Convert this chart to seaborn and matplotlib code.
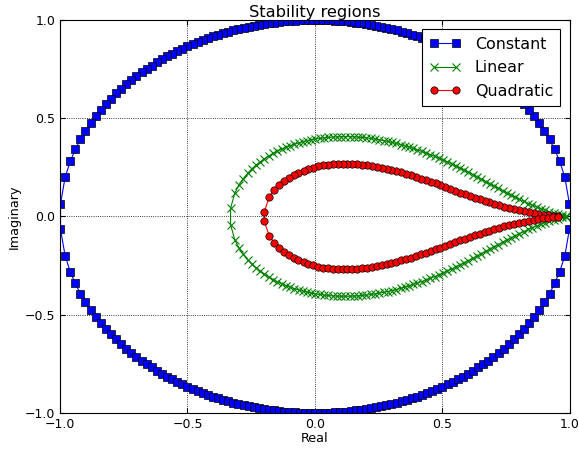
import numpy as np
import matplotlib
matplotlib.use('Agg')
import matplotlib.pyplot as plt
import seaborn as sns

# Constant: unit circle, upper half (lower half is the mirror)
const_x = [-0.998, -0.98, -0.96, -0.94, -0.92, -0.90, -0.88, -0.86, -0.84, -0.82,
           -0.80, -0.78, -0.76, -0.74, -0.72, -0.70, -0.68, -0.66, -0.64, -0.62,
           -0.60, -0.58, -0.56, -0.54, -0.52, -0.50, -0.48, -0.46, -0.44, -0.42,
           -0.40, -0.38, -0.36, -0.34, -0.32, -0.30, -0.28, -0.26, -0.24, -0.22,
           -0.20, -0.18, -0.16, -0.14, -0.12, -0.10, -0.08, -0.06, -0.04, -0.02,
           0.00, 0.02, 0.04, 0.06, 0.08, 0.10, 0.12, 0.14, 0.16, 0.18,
           0.20, 0.22, 0.24, 0.26, 0.28, 0.30, 0.32, 0.34, 0.36, 0.38,
           0.40, 0.42, 0.44, 0.46, 0.48, 0.50, 0.52, 0.54, 0.56, 0.58,
           0.60, 0.62, 0.64, 0.66, 0.68, 0.70, 0.72, 0.74, 0.76, 0.78,
           0.80, 0.82, 0.84, 0.86, 0.88, 0.90, 0.92, 0.94, 0.96, 0.98, 0.998]
const_y = [0.063, 0.199, 0.280, 0.341, 0.392, 0.436, 0.475, 0.510, 0.543, 0.572,
           0.600, 0.626, 0.650, 0.673, 0.694, 0.714, 0.733, 0.751, 0.768, 0.785,
           0.800, 0.815, 0.828, 0.842, 0.854, 0.866, 0.877, 0.888, 0.898, 0.908,
           0.917, 0.925, 0.933, 0.940, 0.947, 0.954, 0.960, 0.966, 0.971, 0.975,
           0.980, 0.984, 0.987, 0.990, 0.993, 0.995, 0.997, 0.998, 0.999, 1.000,
           1.000, 1.000, 0.999, 0.998, 0.997, 0.995, 0.993, 0.990, 0.987, 0.984,
           0.980, 0.975, 0.971, 0.966, 0.960, 0.954, 0.947, 0.940, 0.933, 0.925,
           0.917, 0.908, 0.898, 0.888, 0.877, 0.866, 0.854, 0.842, 0.828, 0.815,
           0.800, 0.785, 0.768, 0.751, 0.733, 0.714, 0.694, 0.673, 0.650, 0.626,
           0.600, 0.572, 0.543, 0.510, 0.475, 0.436, 0.392, 0.341, 0.280, 0.199, 0.063]

# Linear: upper branch
lin_x = [-0.331, -0.314, -0.298, -0.281, -0.264, -0.248, -0.231, -0.214, -0.198, -0.181,
         -0.164, -0.148, -0.131, -0.114, -0.098, -0.081, -0.064, -0.048, -0.031, -0.014,
         0.002, 0.019, 0.036, 0.052, 0.069, 0.086, 0.102, 0.119, 0.136, 0.152,
         0.169, 0.186, 0.202, 0.219, 0.236, 0.252, 0.269, 0.286, 0.302, 0.319,
         0.336, 0.352, 0.369, 0.386, 0.402, 0.419, 0.436, 0.452, 0.469, 0.486,
         0.502, 0.519, 0.536, 0.552, 0.569, 0.586, 0.602, 0.619, 0.636, 0.652,
         0.669, 0.686, 0.702, 0.719, 0.736, 0.752, 0.769, 0.786, 0.802, 0.819,
         0.836, 0.852, 0.869, 0.886, 0.902, 0.919, 0.936, 0.952, 0.969, 0.986]
lin_y = [0.042, 0.120, 0.161, 0.193, 0.220, 0.242, 0.262, 0.279, 0.294, 0.308,
         0.321, 0.332, 0.342, 0.352, 0.360, 0.367, 0.374, 0.380, 0.385, 0.390,
         0.394, 0.397, 0.400, 0.402, 0.404, 0.405, 0.406, 0.406, 0.406, 0.405,
         0.404, 0.402, 0.400, 0.397, 0.394, 0.390, 0.386, 0.382, 0.377, 0.372,
         0.366, 0.360, 0.353, 0.346, 0.339, 0.331, 0.323, 0.315, 0.306, 0.297,
         0.288, 0.278, 0.267, 0.257, 0.246, 0.235, 0.225, 0.213, 0.201, 0.190,
         0.178, 0.166, 0.155, 0.143, 0.131, 0.120, 0.109, 0.098, 0.087, 0.077,
         0.066, 0.057, 0.048, 0.039, 0.031, 0.023, 0.016, 0.011, 0.005, 0.002]

# Quadratic: upper branch
quad_x = [-0.199, -0.180, -0.161, -0.141, -0.122, -0.103, -0.084, -0.065, -0.045, -0.026,
          -0.007, 0.012, 0.031, 0.051, 0.070, 0.089, 0.108, 0.127, 0.147, 0.166,
          0.185, 0.204, 0.223, 0.243, 0.262, 0.281, 0.300, 0.319, 0.339, 0.358,
          0.377, 0.396, 0.415, 0.435, 0.454, 0.473, 0.492, 0.511, 0.531, 0.550,
          0.569, 0.588, 0.607, 0.627, 0.646, 0.665, 0.684, 0.703, 0.723, 0.742,
          0.761, 0.780, 0.799, 0.819, 0.838, 0.857, 0.876, 0.895, 0.915, 0.934, 0.953]
quad_y = [0.022, 0.097, 0.133, 0.159, 0.180, 0.197, 0.211, 0.223, 0.233, 0.242,
          0.249, 0.255, 0.260, 0.263, 0.266, 0.267, 0.268, 0.268, 0.267, 0.266,
          0.264, 0.261, 0.257, 0.253, 0.248, 0.243, 0.237, 0.231, 0.224, 0.217,
          0.209, 0.202, 0.193, 0.185, 0.176, 0.168, 0.159, 0.150, 0.141, 0.131,
          0.122, 0.114, 0.105, 0.096, 0.088, 0.079, 0.072, 0.064, 0.057, 0.050,
          0.043, 0.037, 0.031, 0.026, 0.021, 0.016, 0.012, 0.009, 0.006, 0.004, 0.002]

labels = ['Constant', 'Linear', 'Quadratic']
ticks = [-1.0, -0.5, 0.0, 0.5, 1.0]


def closed(xs, ys):
    # upper branch right to left, then lower branch back
    xs = np.asarray(xs)
    ys = np.asarray(ys)
    return np.concatenate([xs[::-1], xs]), np.concatenate([ys[::-1], -ys])


sns.set_style('ticks', {'xtick.direction': 'in', 'ytick.direction': 'in',
                        'axes.edgecolor': 'black', 'text.color': 'black',
                        'xtick.color': 'black', 'ytick.color': 'black',
                        'axes.labelcolor': 'black'})
plt.rcParams['font.family'] = ['DejaVu Sans']

fig = plt.figure(figsize=(5.79, 4.51), dpi=100)
ax = fig.add_axes([0.1036, 0.0843, 0.8808, 0.8714])

styles = [('b', 's', 'k'), ('g', 'x', 'g'), ('r', 'o', 'k')]
series = [(const_x, const_y), (lin_x, lin_y), (quad_x, quad_y)]
for (xs, ys), lab, (c, m, ec) in zip(series, labels, styles):
    X, Y = closed(xs, ys)
    sns.lineplot(x=X, y=Y, sort=False, estimator=None, ax=ax, color=c, marker=m,
                 markersize=5.3, markeredgecolor=ec,
                 markeredgewidth=0.5 if m != 'x' else 0.8,
                 linewidth=0.8, label=lab, legend=False)

ax.set_xlim(-1, 1)
ax.set_ylim(-1, 1)
ax.set_xticks(ticks)
ax.set_yticks(ticks)
ax.tick_params(direction='in', top=True, right=True, length=3.5, width=0.8,
               labelsize=9, pad=3.5)
for s in ax.spines.values():
    s.set_linewidth(0.8)
    s.set_color('black')
ax.grid(True, color='black', linestyle=':', linewidth=0.6)
ax.set_title('Stability regions', fontsize=11.7, pad=2.5)
ax.set_xlabel('Real', fontsize=9.2, labelpad=1)
ax.set_ylabel('Imaginary', fontsize=9.2, labelpad=3)
leg = ax.legend(loc='upper right', fontsize=11.4, numpoints=2, fancybox=False,
                frameon=True, framealpha=1, edgecolor='black', handlelength=2.0,
                handletextpad=0.9, borderaxespad=0.6, labelspacing=0.55,
                borderpad=0.45)
leg.get_frame().set_linewidth(0.8)
fig.savefig('out.png', dpi=100)
